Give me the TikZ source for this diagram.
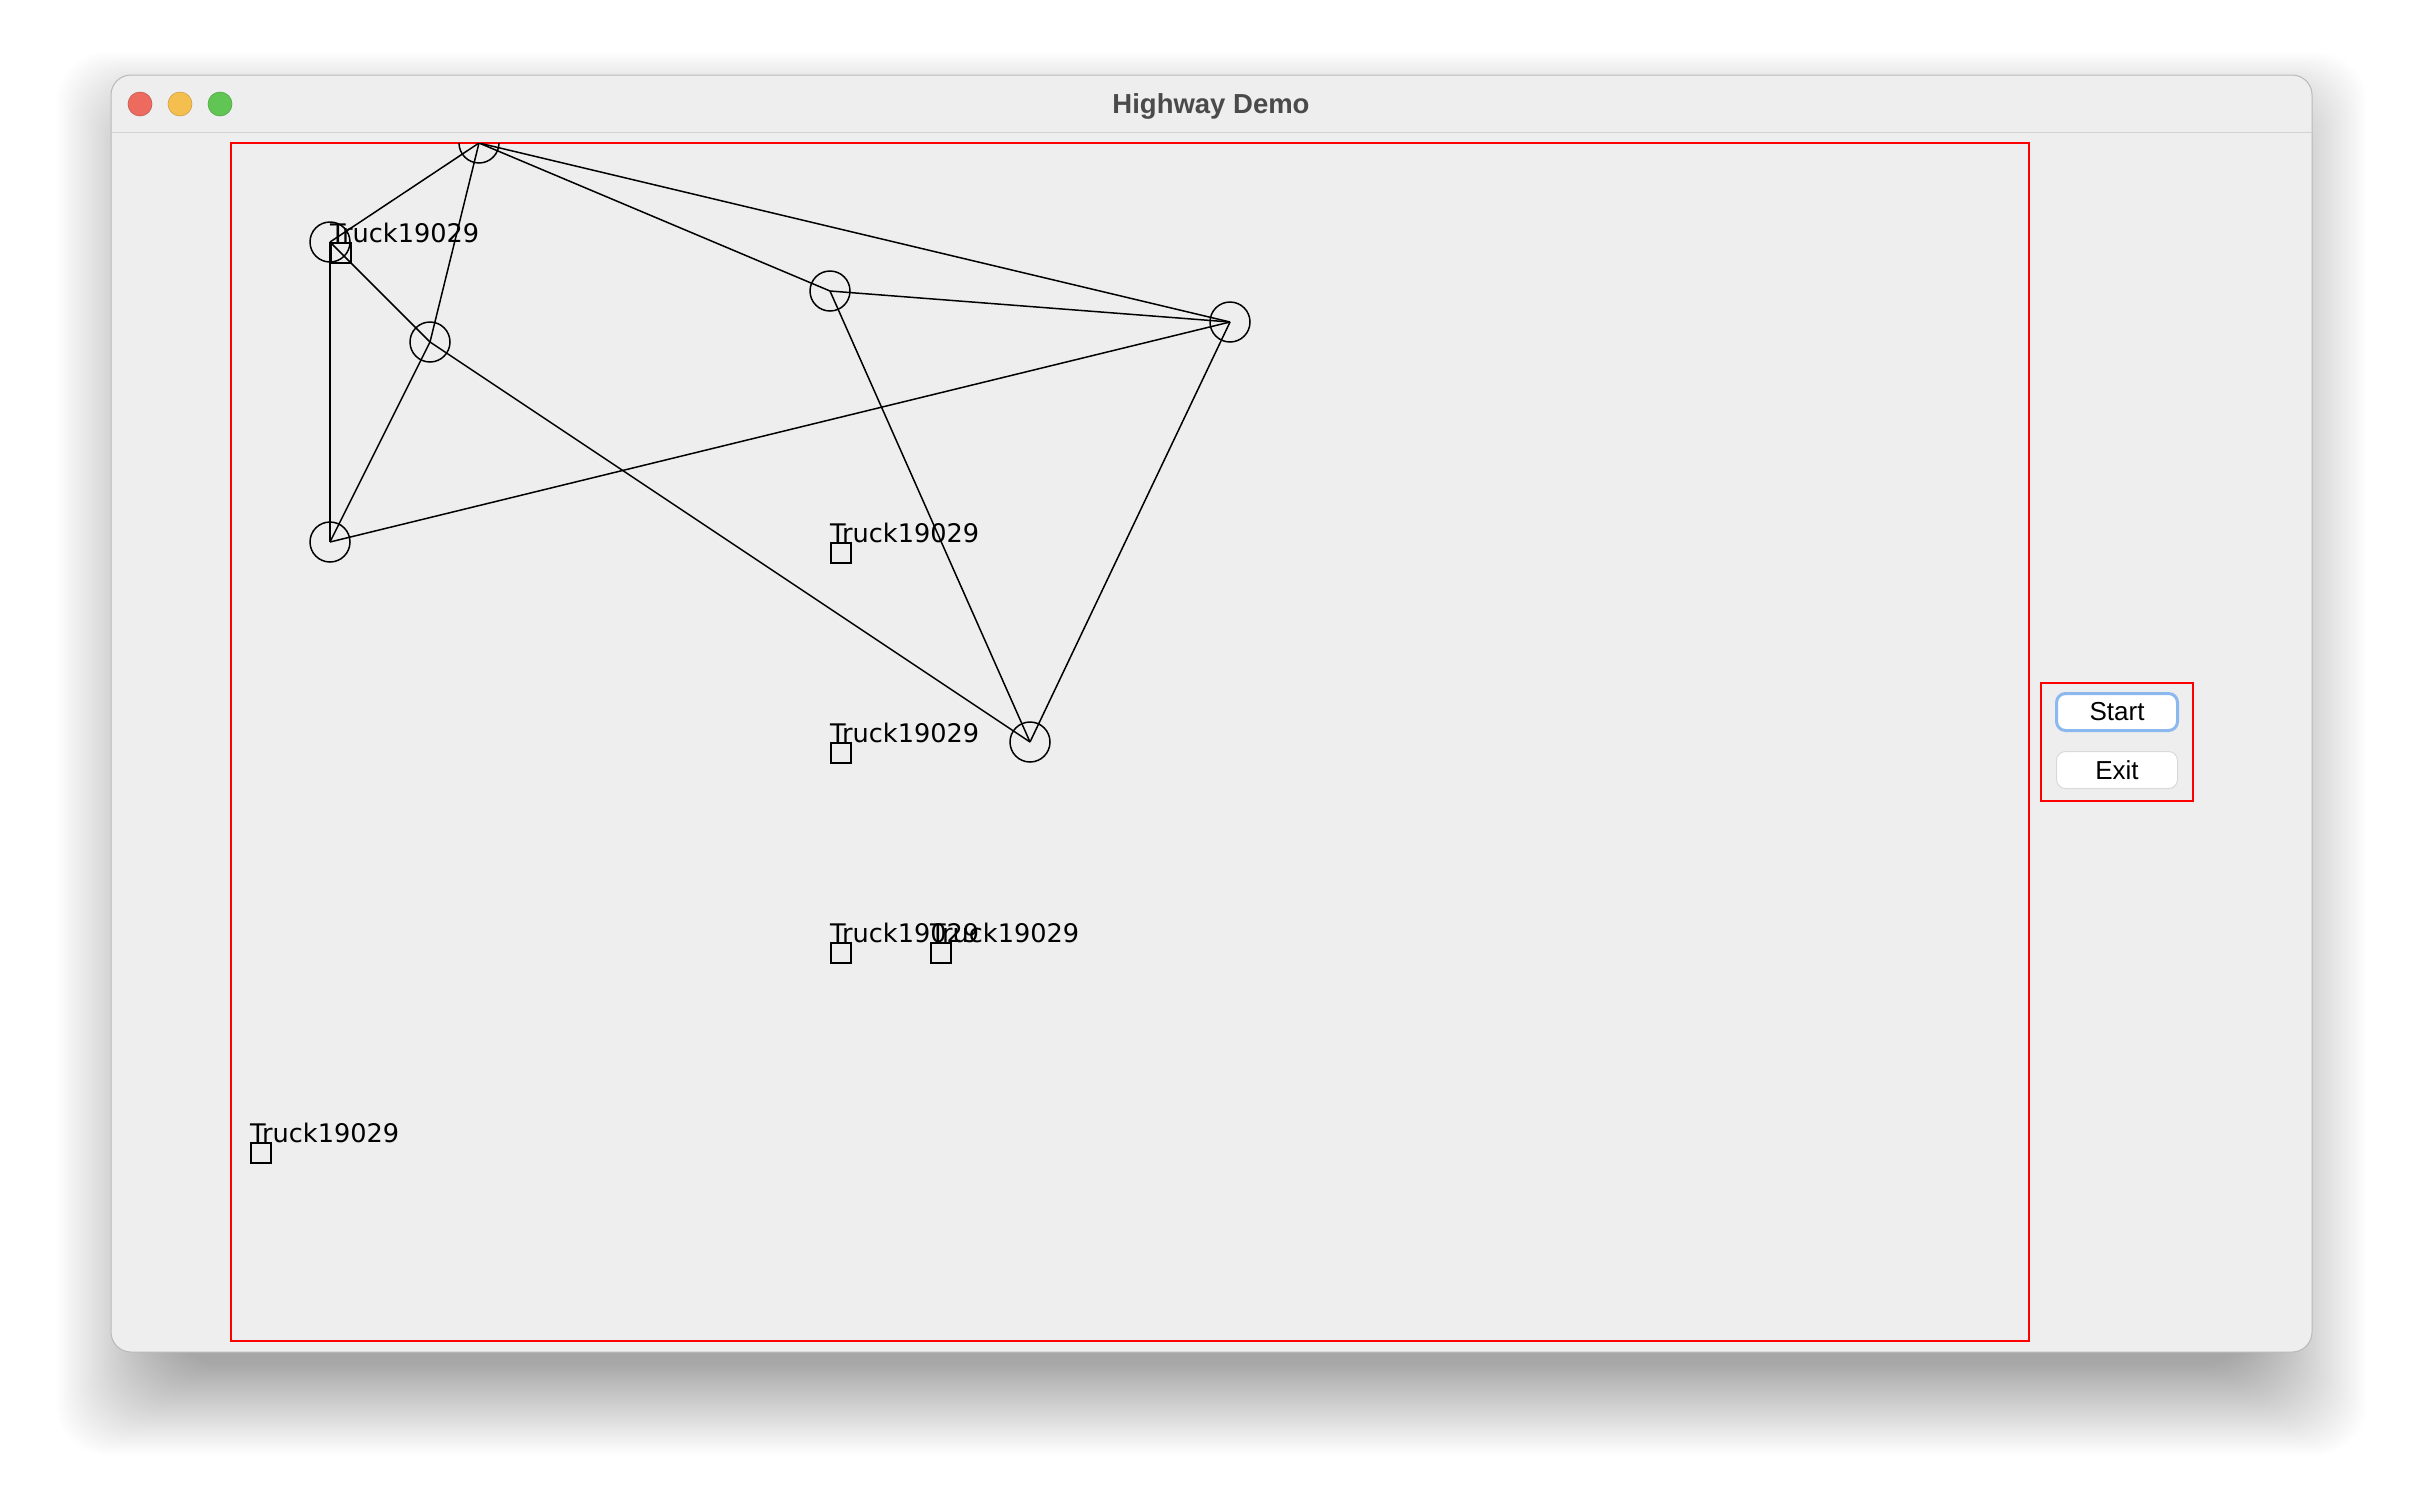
\documentclass[tikz,border=0pt]{standalone}
\usepackage{fontspec}
\setmainfont{DejaVu Sans}
\newfontfamily\uifont{Liberation Sans}
\definecolor{winbg}{HTML}{EEEEEE}
\definecolor{titlegray}{HTML}{4A4A4A}
\definecolor{lightred}{HTML}{ED6A5E}
\definecolor{lightyellow}{HTML}{F5BF4F}
\definecolor{lightgreen}{HTML}{61C554}
\definecolor{focusblue}{HTML}{8CB8F0}
\tikzset{
  city/.style={draw, circle, line width=1.5pt, minimum size=40pt, inner sep=0pt},
  truck/.style={draw, rectangle, line width=2pt, minimum size=20pt, inner sep=0pt, anchor=north west},
  tag/.style={anchor=base west, inner sep=0pt, font=\fontsize{25.6}{30}\selectfont},
  road/.style={line width=1.5pt},
  button/.style={fill=white, rounded corners=9pt, minimum width=121pt, minimum height=37pt,
    inner sep=0pt, font=\uifont\fontsize{26}{30}\selectfont}
}
\begin{document}
\begin{tikzpicture}[x=1pt, y=-1pt, >=latex]
\useasboundingbox (0,0) rectangle (2424,1500);
\fill[white] (0,0) rectangle (2424,1500);
% window shadow
\foreach \i in {1,...,44}
    \fill[black, opacity=0.009, rounded corners=50pt] (171-2.6*\i,145-2.1*\i) rectangle (2252+2.6*\i,1362+2.1*\i);
\fill[winbg, rounded corners=20pt] (111,75) rectangle (2312,1352);
\draw[gray!55, line width=1pt, rounded corners=20pt] (111,75) rectangle (2312,1352);
\draw[gray!35, line width=1.5pt] (111,132.5) -- (2312,132.5);
\foreach \x/\c in {140/lightred, 180/lightyellow, 220/lightgreen}
    \filldraw[fill=\c, draw=\c!85!black, line width=0.6pt] (\x,104) circle (12pt);
\node[anchor=base, text=titlegray, font=\uifont\bfseries\fontsize{27.5}{32}\selectfont] (title) at (1211,113) {Highway Demo};

% map
\draw[red, line width=2pt] (231,143) rectangle (2029,1341);
\begin{scope}
\clip (231,143) rectangle (2029,1341);
\node[city] (v1) at (479,143) {};
\node[city] (v2) at (330,242) {};
\node[city] (v3) at (430,342) {};
\node[city] (v4) at (830,291) {};
\node[city] (v5) at (1230,322) {};
\node[city] (v6) at (330,542) {};
\node[city] (v7) at (1030,742) {};
\foreach \a/\b in {v1/v2, v1/v3, v1/v4, v1/v5, v2/v3, v2/v6, v3/v6, v3/v7, v4/v5, v4/v7, v5/v6, v5/v7}
    \draw[road] (\a.center) -- (\b.center);
\foreach \x/\y [count=\k] in {330/242, 830/542, 830/742, 830/942, 930/942, 250/1142}
{
    \node[truck] (t\k) at (\x,\y) {};
    \node[tag] (l\k) at (t\k.north west) {Truck19029};
}
\end{scope}

% controls
\draw[red, line width=2pt] (2041,683) rectangle (2193,801);
\node[button, draw=focusblue, line width=3pt] (start) at (2117,712) {Start};
\node[button, draw=gray!30, line width=1pt] (exit) at (2117,770) {Exit};
\end{tikzpicture}
\end{document}
